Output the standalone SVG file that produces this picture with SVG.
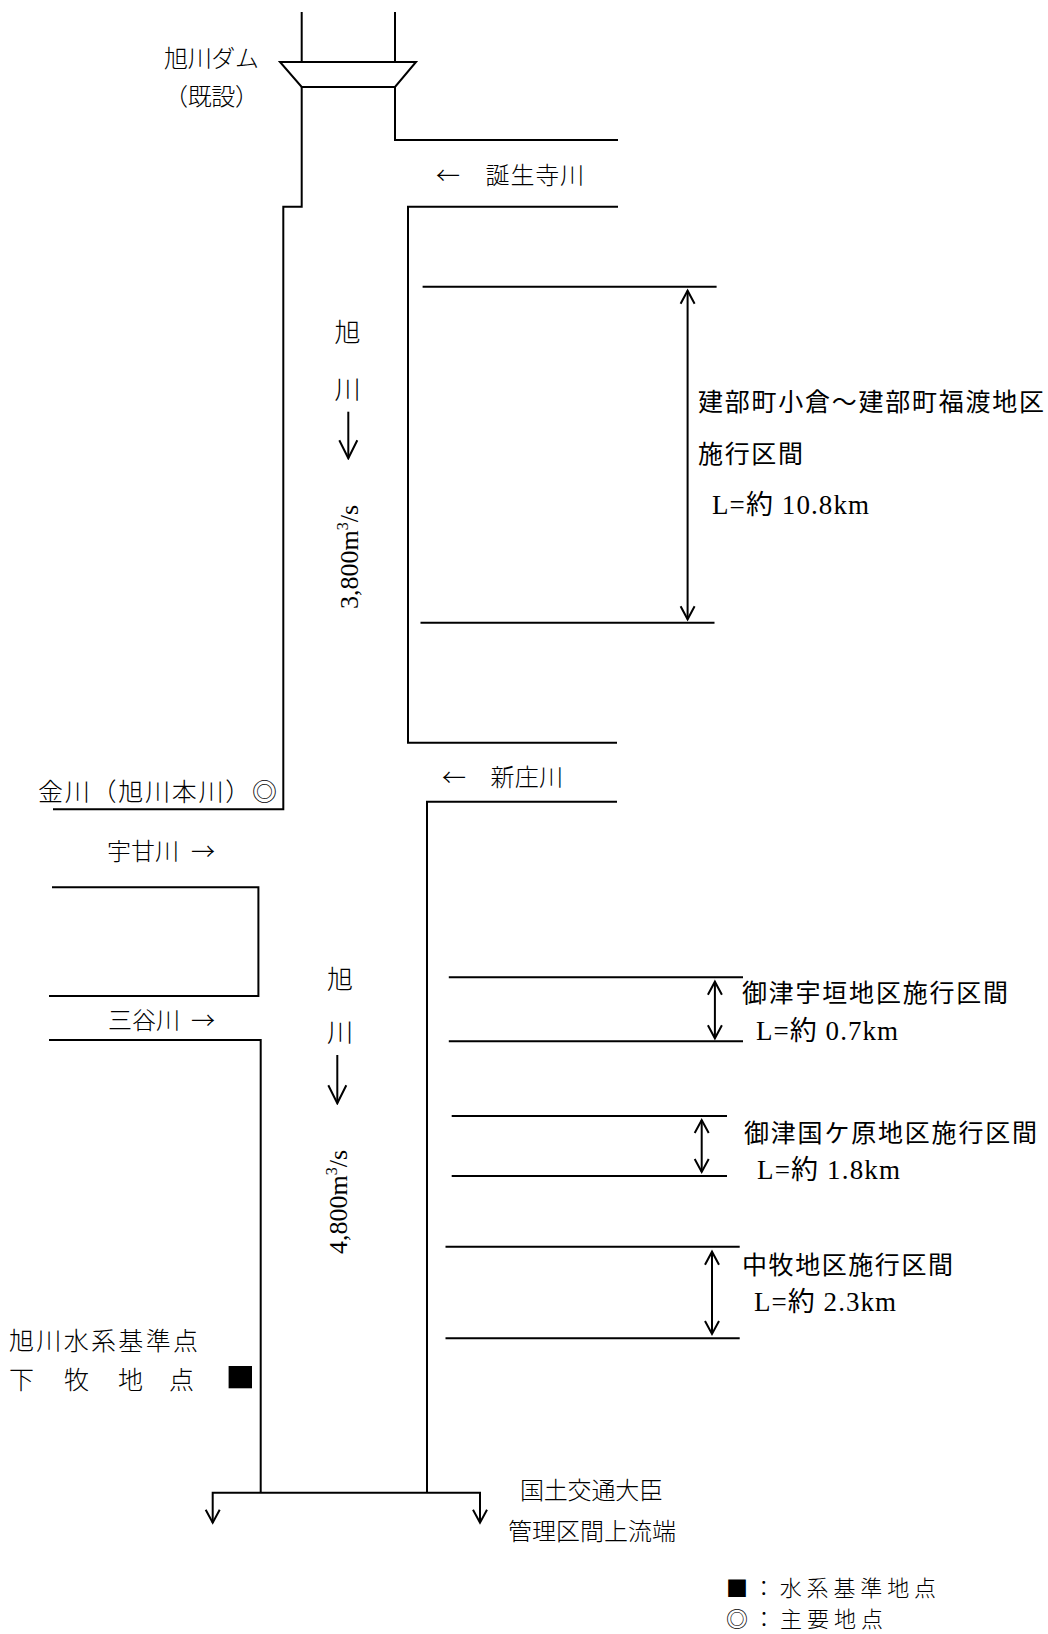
<svg xmlns="http://www.w3.org/2000/svg" width="1048" height="1634" viewBox="0 0 1048 1634">
<defs>
<style>
.ln{fill:none;stroke:#000;stroke-width:2;stroke-linejoin:miter}
.ar{fill:none;stroke:#000;stroke-width:2}
.g{font-family:"Noto Sans CJK JP",sans-serif;font-size:24px;fill:#000;font-weight:300}
.m{font-family:"Noto Sans CJK JP",sans-serif;font-size:25px;fill:#000}
.r{font-family:"Liberation Serif","Noto Sans CJK JP",serif;font-size:27px;fill:#000}
.q{font-family:"Liberation Serif",serif;font-size:26px;fill:#000}
</style>
<marker id="ah" viewBox="-15 -9 18 18" refX="0" refY="0" markerWidth="18" markerHeight="18" markerUnits="userSpaceOnUse" orient="auto-start-reverse"><path d="M-13,-7 L0,0 L-13,7" fill="none" stroke="#000" stroke-width="2"/></marker>
<marker id="ahb" viewBox="-20 -11 22 22" refX="0" refY="0" markerWidth="22" markerHeight="22" markerUnits="userSpaceOnUse" orient="auto-start-reverse"><path d="M-18,-9 L0,0 L-18,9" fill="none" stroke="#000" stroke-width="2"/></marker>
</defs>
<rect width="1048" height="1634" fill="#fff"/>

<g id="dam">
<path class="ln" d="M301.7,12 V62 M395,12 V62"/>
<path class="ln" d="M280,62 H416 L395,87 H301.7 Z"/>
<text class="g" x="164" y="67" textLength="95" lengthAdjust="spacing">旭川ダム</text>
<text class="g" x="164" y="105" textLength="95" lengthAdjust="spacing">（既設）</text>
</g>

<g id="asahi-upper">
<path class="ln" d="M301.7,87 V206.7 H283.3 V809.3 H53"/>
<path class="ln" d="M395,87 V140 H618"/>
<path class="ln" d="M618,206.7 H408 V742.7 H617"/>
<text class="g" x="347.5" y="342" text-anchor="middle" style="font-size:26px">旭</text>
<text class="g" x="347.5" y="399" text-anchor="middle" style="font-size:26px">川</text>
<text class="q" transform="translate(357.5,609) rotate(-90)">3,800m<tspan style="font-size:16px" dy="-10">3</tspan><tspan dy="10">/s</tspan></text>
</g>

<g id="tanjoji">
<text class="g" x="436" y="184" textLength="148" lengthAdjust="spacing">←　誕生寺川</text>
</g>

<g id="kanagawa">
<text class="g" x="38" y="801" textLength="239" lengthAdjust="spacing" style="font-size:25px">金川（旭川本川）◎</text>
</g>

<g id="shinjo">
<path class="ln" d="M617,801.7 H427 V1492.7"/>
<text class="g" x="442" y="786" textLength="121" lengthAdjust="spacing">←　新庄川</text>
</g>

<g id="ukai">
<path class="ln" d="M52,887.3 H258.4 V996 H49"/>
<text class="g" y="860"><tspan x="107">宇甘川</tspan><tspan x="191">→</tspan></text>
</g>

<g id="mitani">
<path class="ln" d="M49,1040 H260.7 V1492.7"/>
<text class="g" y="1028.5"><tspan x="108">三谷川</tspan><tspan x="191">→</tspan></text>
</g>

<g id="asahi-lower">
<text class="g" x="340" y="988.5" text-anchor="middle" style="font-size:26px">旭</text>
<text class="g" x="340" y="1042" text-anchor="middle" style="font-size:26px">川</text>
<text class="q" transform="translate(347,1254) rotate(-90)">4,800m<tspan style="font-size:16px" dy="-10">3</tspan><tspan dy="10">/s</tspan></text>
</g>

<g id="section-takebe">
<path class="ln" d="M422.6,286.7 H716.6 M420.5,622.7 H714.5"/>
<text class="m" x="698" y="411" textLength="346" lengthAdjust="spacing">建部町小倉～建部町福渡地区</text>
<text class="m" x="698" y="462.5" textLength="105" lengthAdjust="spacing">施行区間</text>
<text class="r" x="712" y="514" textLength="157" lengthAdjust="spacing">L=約 10.8km</text>
</g>

<g id="section-ukaki">
<path class="ln" d="M448.8,977.3 H743 M448.8,1041.3 H743"/>
<text class="m" x="742" y="1001.5" textLength="266" lengthAdjust="spacing">御津宇垣地区施行区間</text>
<text class="r" x="756" y="1039.5" textLength="142" lengthAdjust="spacing">L=約 0.7km</text>
</g>

<g id="section-kunigahara">
<path class="ln" d="M451.7,1116 H727 M451.7,1176 H727"/>
<text class="m" x="744" y="1141.5" textLength="293" lengthAdjust="spacing">御津国ケ原地区施行区間</text>
<text class="r" x="757" y="1179" textLength="143" lengthAdjust="spacing">L=約 1.8km</text>
</g>

<g id="section-nakamaki">
<path class="ln" d="M445.5,1246.7 H739.7 M445.5,1338.3 H739.7"/>
<text class="m" x="742" y="1273.5" textLength="211" lengthAdjust="spacing">中牧地区施行区間</text>
<text class="r" x="754" y="1311" textLength="142" lengthAdjust="spacing">L=約 2.3km</text>
</g>

<g id="shimomaki">
<text class="g" x="9" y="1350" textLength="189" lengthAdjust="spacing" style="font-size:25px">旭川水系基準点</text>
<text class="g" y="1389" style="font-size:25px"><tspan x="9">下</tspan><tspan x="64">牧</tspan><tspan x="118">地</tspan><tspan x="169">点</tspan></text>
<rect x="228.6" y="1366" width="23.4" height="22.3" fill="#000"/>
</g>

<g id="downstream-end">
<text class="g" x="520" y="1499" textLength="143" lengthAdjust="spacing">国土交通大臣</text>
<text class="g" x="508" y="1540" textLength="168" lengthAdjust="spacing">管理区間上流端</text>
</g>

<g id="legend">
<text class="g" x="726" y="1596" textLength="210" lengthAdjust="spacing" style="font-size:22px">■：水系基準地点</text>
<text class="g" x="726" y="1627" textLength="157" lengthAdjust="spacing" style="font-size:22px">◎：主要地点</text>
</g>

<g id="connectors">
<path class="ar" d="M687.6,290.7 V619.3" marker-start="url(#ah)" marker-end="url(#ah)"/>
<path class="ar" d="M714.9,981.7 V1038.3" marker-start="url(#ah)" marker-end="url(#ah)"/>
<path class="ar" d="M701.7,1120 V1172" marker-start="url(#ah)" marker-end="url(#ah)"/>
<path class="ar" d="M712,1251.7 V1334" marker-start="url(#ah)" marker-end="url(#ah)"/>
<path class="ar" d="M348.3,411.7 V458.3" marker-end="url(#ahb)"/>
<path class="ar" d="M337.3,1055 V1103.3" marker-end="url(#ahb)"/>
<path class="ar" d="M212.7,1522.7 V1492.7 H480 V1522.7" marker-start="url(#ah)" marker-end="url(#ah)"/>
</g>
</svg>
